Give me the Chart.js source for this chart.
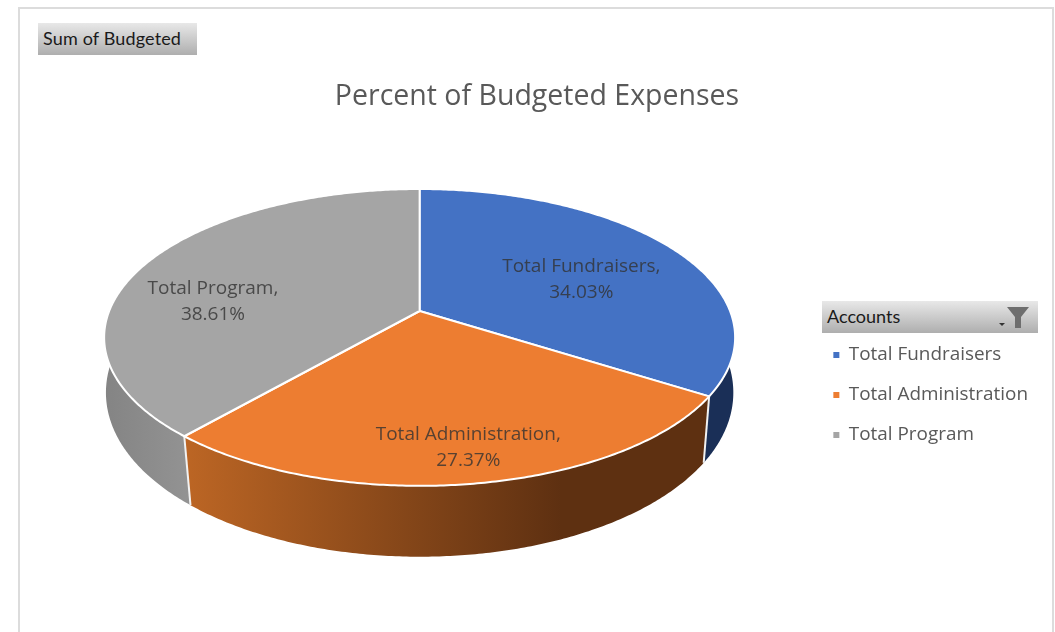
<!DOCTYPE html>
<html>
<head>
<meta charset="utf-8">
<script src="https://cdn.jsdelivr.net/npm/chart.js@4"></script>
<style>
  body { margin: 0; background: #fff; width: 1055px; height: 632px; overflow: hidden; position: relative; }
  #frame { position: absolute; left: 18px; top: 7px; width: 1032px; height: 640px; border: 2px solid #dcdcdc; }
  canvas { position: absolute; left: 0; top: 0; }
  .field { position: absolute; height: 32px; line-height: 31px; padding-left: 5px; box-sizing: border-box;
           font: 18px/31px Lato, sans-serif; color: #1a1a1a; background: linear-gradient(#e8e8e8, #aeaeae); }
  #sumBtn { left: 38px; top: 23px; width: 159px; letter-spacing: 0.15px; }
  #accountsBtn { left: 822px; top: 301px; width: 216px; }
  #accountsBtn svg { position: absolute; left: 176px; top: 5px; }
</style>
</head>
<body>
<div id="frame"></div>
<canvas id="pieChart" width="1055" height="632"></canvas>
<div class="field" id="sumBtn">Sum of Budgeted</div>
<div class="field" id="accountsBtn">Accounts
  <svg width="38" height="24" viewBox="0 0 38 24">
    <path d="M1 17h6l-3 3z" fill="#333"/>
    <path d="M9 1h22l-8 10v11h-6V11z" fill="#6e6e6e"/>
  </svg>
</div>

<script>
const accounts = ["Total Fundraisers", "Total Administration", "Total Program"];
const budgetPercent = [34.03, 27.37, 38.61];
const sliceColors = ["#4472c4", "#ed7d31", "#a5a5a5"];
const chartTitle = "Percent of Budgeted Expenses";

const FONT = "'Open Sans', sans-serif";

const tilt = { rx: 1.592, ry: 0.737, k: 0.178, depthBack: 57.6, depthFront: 19.4, narrowing: 0.035 };

// where the labels sit: share of the radius along the slice middle, plus a nudge
const labelSpots = [{ r: 0.63, dx: -1, dy: 10 }, { r: 0.82, dx: 6, dy: 0 }, { r: 0.74, dx: -1, dy: 26 }];

function project(el, angle, frac) {
    const u = Math.cos(angle) * frac;
    const v = Math.sin(angle) * frac;
    const w = 1 - tilt.k * v;
    return {
        x: el.x + el.outerRadius * tilt.rx * u / w,
        y: el.y + el.outerRadius * tilt.ry * v / w
    };
}

function projectBottom(el, angle) {
    const p = project(el, angle, 1);
    const v = Math.sin(angle);
    const s = 1 - tilt.narrowing * Math.max(v, 0);
    return {
        x: el.x + (p.x - el.x) * s,
        y: el.y + (p.y - el.y) * s + tilt.depthBack + tilt.depthFront * v
    };
}

function arcAngles(el) {
    const out = [];
    const steps = Math.ceil((el.endAngle - el.startAngle) / 0.01);
    for (let i = 0; i <= steps; i++) {
        out.push(el.startAngle + (el.endAngle - el.startAngle) * i / steps);
    }
    return out;
}

function wallFill(ctx, index) {
    if (index === 0) return "#1a2f57";
    if (index === 2) {
        const g = ctx.createLinearGradient(105, 0, 190, 0);
        g.addColorStop(0, "#848484");
        g.addColorStop(1, "#939393");
        return g;
    }
    const g = ctx.createLinearGradient(190, 0, 705, 0);
    g.addColorStop(0, "#bb6524");
    g.addColorStop(0.72, "#5e3011");
    g.addColorStop(1, "#5e3011");
    return g;
}

const tiltedPie = {
    id: "tiltedPie",
    afterLayout(chart) {
        // legend sits lower than the middle of the pie, title a bit right of the page middle
        chart.legend.top += 142;
        chart.legend.bottom += 142;
        chart.legend.left += 1;
        chart.legend.right += 1;
        chart.titleBlock.left += 4.5;
        chart.titleBlock.right += 4.5;
    },
    beforeDatasetsDraw(chart) {
        const ctx = chart.ctx;
        const arcs = chart.getDatasetMeta(0).data;

        // side wall, back slices first so the front one lands on top
        [2, 0, 1].forEach(i => {
            const el = arcs[i];
            const angles = arcAngles(el);
            ctx.beginPath();
            angles.forEach((a, n) => {
                const p = project(el, a, 1);
                n ? ctx.lineTo(p.x, p.y) : ctx.moveTo(p.x, p.y);
            });
            angles.slice().reverse().forEach(a => {
                const p = projectBottom(el, a);
                ctx.lineTo(p.x, p.y);
            });
            ctx.closePath();
            ctx.fillStyle = wallFill(ctx, i);
            ctx.fill();
        });

        // white seams where the walls meet
        [1, 2].forEach(i => {
            const el = arcs[i];
            const a = el.startAngle;
            const p = project(el, a, 1);
            const q = projectBottom(el, a);
            ctx.beginPath();
            ctx.moveTo(p.x, p.y);
            ctx.lineTo(q.x, q.y);
            ctx.strokeStyle = "#f2f2f2";
            ctx.lineWidth = 2;
            ctx.stroke();
        });

        // top faces
        arcs.forEach(el => {
            ctx.beginPath();
            ctx.moveTo(el.x, el.y);
            arcAngles(el).forEach(a => {
                const p = project(el, a, 1);
                ctx.lineTo(p.x, p.y);
            });
            ctx.closePath();
            ctx.fillStyle = el.options.backgroundColor;
            ctx.fill();
            ctx.strokeStyle = "#fff";
            ctx.lineWidth = 2;
            ctx.lineJoin = "round";
            ctx.stroke();
        });

        // data labels
        ctx.font = "19px " + FONT;
        ctx.fillStyle = "rgba(50,50,50,0.8)";
        ctx.textAlign = "center";
        ctx.textBaseline = "middle";
        arcs.forEach((el, i) => {
            const mid = (el.startAngle + el.endAngle) / 2;
            const p = project(el, mid, labelSpots[i].r);
            const x = p.x + labelSpots[i].dx;
            const y = p.y + labelSpots[i].dy;
            ctx.fillText(accounts[i] + ",", x, y - 13);
            ctx.fillText(budgetPercent[i].toFixed(2) + "%", x, y + 13);
        });
        return false;
    }
};

new Chart(document.getElementById("pieChart"), {
    type: "pie",
    data: {
        labels: accounts,
        datasets: [{ data: budgetPercent, backgroundColor: sliceColors, borderWidth: 0 }]
    },
    options: {
        responsive: false,
        animation: false,
        layout: { padding: { left: 28, right: 18, top: 0, bottom: 126 } },
        plugins: {
            tooltip: { enabled: false },
            title: {
                display: true,
                text: chartTitle,
                color: "#595959",
                font: { family: FONT, size: 28.5, weight: "normal", lineHeight: 1.2 },
                padding: { top: 80, bottom: 1.8 }
            },
            legend: {
                position: "right",
                labels: {
                    boxWidth: 6,
                    boxHeight: 6,
                    padding: 21.1,
                    color: "#595959",
                    font: { family: FONT, size: 18.9 }
                }
            }
        }
    },
    plugins: [tiltedPie]
});
</script>
</body>
</html>
